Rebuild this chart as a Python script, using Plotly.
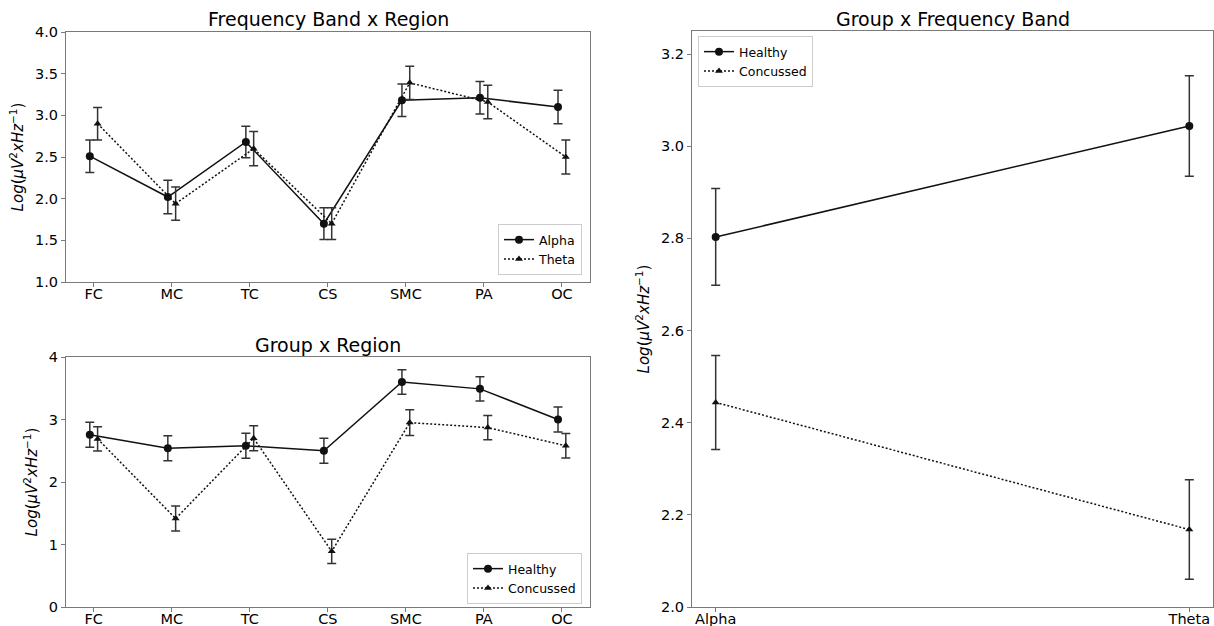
import numpy as np
import plotly.graph_objects as go

regions = ["FC", "MC", "TC", "CS", "SMC", "PA", "OC"]
bands = ["Alpha", "Theta"]

# Frequency Band x Region
alpha_vals = [2.51, 2.02, 2.68, 1.70, 3.18, 3.21, 3.10]
alpha_err = [0.195, 0.20, 0.19, 0.19, 0.195, 0.195, 0.20]
theta_vals = [2.90, 1.94, 2.60, 1.70, 3.39, 3.16, 2.50]
theta_err = [0.195, 0.20, 0.205, 0.19, 0.20, 0.20, 0.205]

# Group x Region
healthy_region = [2.755, 2.54, 2.58, 2.50, 3.60, 3.49, 3.00]
healthy_region_err = [0.20, 0.20, 0.20, 0.20, 0.195, 0.195, 0.20]
concussed_region = [2.69, 1.415, 2.70, 0.89, 2.95, 2.87, 2.58]
concussed_region_err = [0.195, 0.20, 0.20, 0.195, 0.205, 0.195, 0.195]

# Group x Frequency Band
healthy_band = [2.803, 3.044]
healthy_band_err = [0.105, 0.109]
concussed_band = [2.444, 2.168]
concussed_band_err = [0.102, 0.108]

W, H = 1214, 626
FONT = "DejaVu Sans"
SPINE = "#7a7a7a"
YLABEL = "<i>Log</i>(<i>μV</i><sup>2</sup><i>xHz</i><sup>−1</sup>)"

def px_x(p):
    return p / W

def px_y(p):
    return 1 - p / H

idx = np.arange(len(regions))
bidx = np.arange(len(bands))

fig = go.Figure()

def add(x, y, err, name, solid, xa, ya, leg):
    fig.add_trace(go.Scatter(
        x=x, y=y, name=name, mode="lines+markers",
        line=dict(color="#111111", width=1.5, dash=None if solid else "2px,2px"),
        marker=dict(symbol="circle" if solid else "triangle-up",
                    size=8 if solid else 7, color="#111111"),
        error_y=dict(type="data", array=err, color="#333333", thickness=1.5, width=4.5),
        xaxis=xa, yaxis=ya, legend=leg,
    ))

add(idx - 0.05, alpha_vals, alpha_err, "Alpha", True, "x", "y", "legend")
add(idx + 0.05, theta_vals, theta_err, "Theta", False, "x", "y", "legend")
add(idx - 0.05, healthy_region, healthy_region_err, "Healthy", True, "x2", "y2", "legend2")
add(idx + 0.05, concussed_region, concussed_region_err, "Concussed", False, "x2", "y2", "legend2")
add(bidx, healthy_band, healthy_band_err, "Healthy", True, "x3", "y3", "legend3")
add(bidx, concussed_band, concussed_band_err, "Concussed", False, "x3", "y3", "legend3")

axis_common = dict(showline=True, mirror=True, linecolor=SPINE, linewidth=1,
                   ticks="outside", ticklen=4, tickcolor=SPINE, tickwidth=1,
                   showgrid=False, zeroline=False, automargin=False,
                   tickfont=dict(family=FONT, size=14.5, color="black"))
xaxis_common = dict(axis_common, ticklabelstandoff=-5)

ytitle = dict(text=YLABEL, font=dict(family=FONT, size=15, color="black"), standoff=7)

fig.update_layout(
    width=W, height=H, margin=dict(l=0, r=0, t=0, b=0),
    paper_bgcolor="white", plot_bgcolor="white",
    font=dict(family=FONT, color="black"),
    xaxis=dict(domain=[px_x(66), px_x(590)], anchor="y", range=[-0.355, 6.36],
               tickvals=idx, ticktext=regions, **xaxis_common),
    yaxis=dict(domain=[px_y(282), px_y(32)], anchor="x", range=[1.0, 4.0],
               dtick=0.5, tick0=1.0, tickformat=".1f", title=ytitle, **axis_common),
    xaxis2=dict(domain=[px_x(66), px_x(590)], anchor="y2", range=[-0.355, 6.36],
                tickvals=idx, ticktext=regions, **xaxis_common),
    yaxis2=dict(domain=[px_y(607), px_y(357)], anchor="x2", range=[0, 4],
                dtick=1, tick0=0, title=ytitle, **axis_common),
    xaxis3=dict(domain=[px_x(692), px_x(1213)], anchor="y3", range=[-0.05, 1.05],
                tickvals=bidx, ticktext=bands, **xaxis_common),
    yaxis3=dict(domain=[px_y(607), px_y(31)], anchor="x3", range=[2.0, 3.25],
                dtick=0.2, tick0=2.0, tickformat=".1f", title=ytitle, **axis_common),
)

leg_common = dict(bgcolor="white", bordercolor="#cccccc", borderwidth=1,
                  font=dict(family=FONT, size=12.5, color="black"),
                  itemwidth=30, tracegroupgap=0)
fig.update_layout(
    legend=dict(x=px_x(582), y=px_y(275), xanchor="right", yanchor="bottom", **leg_common),
    legend2=dict(x=px_x(582), y=px_y(604), xanchor="right", yanchor="bottom", **leg_common),
    legend3=dict(x=px_x(698), y=px_y(36), xanchor="left", yanchor="top", **leg_common),
)

titles = [("Frequency Band x Region", (66 + 590) / 2, 19),
          ("Group x Region", (66 + 590) / 2, 345),
          ("Group x Frequency Band", (692 + 1213) / 2, 19)]
for t, cx, cy in titles:
    fig.add_annotation(text=t, x=px_x(cx), y=px_y(cy), xref="paper", yref="paper",
                       showarrow=False, xanchor="center", yanchor="middle",
                       font=dict(family=FONT, size=19, color="black"))

fig.write_html("out.html", config={"displayModeBar": False},
               post_script="document.body.style.margin='0px';document.body.style.overflow='hidden';")
